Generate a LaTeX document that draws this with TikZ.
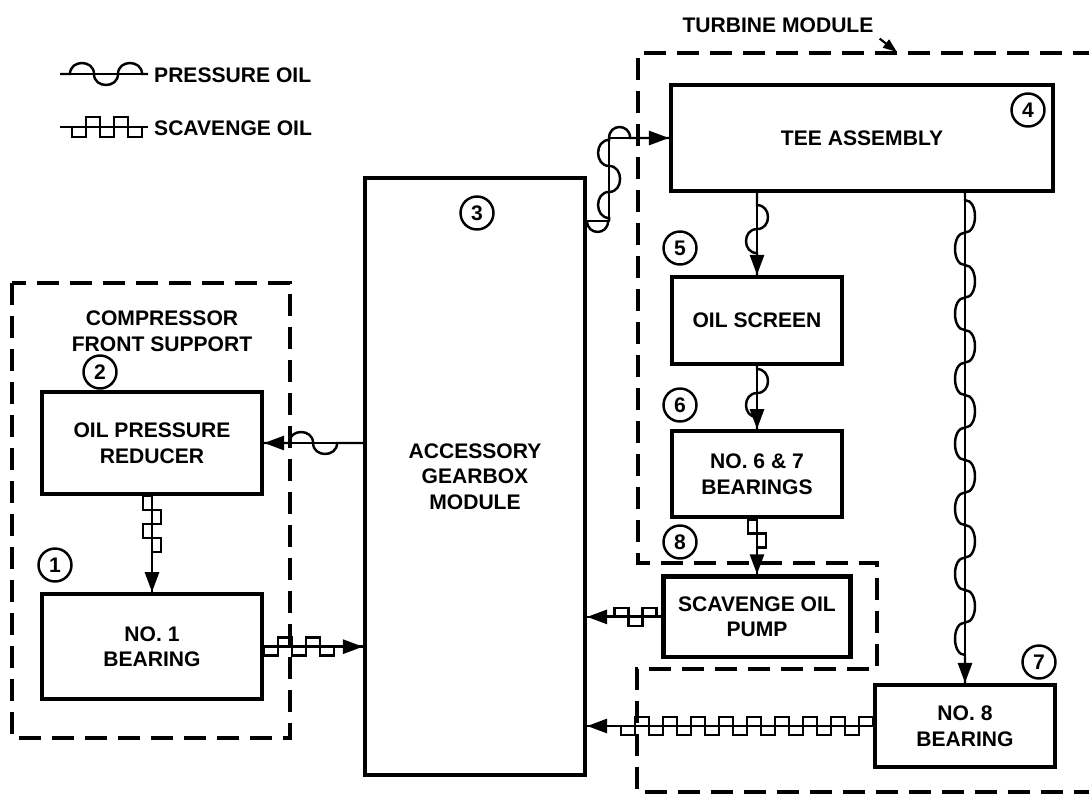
\documentclass[tikz,border=0pt]{standalone}
\usepackage{fontspec}
\setsansfont{Liberation Sans}
\usetikzlibrary{arrows.meta,positioning,decorations}

% alternating half circles for the pressure oil lines
\pgfdeclaredecoration{pressurewave}{up}{
  \state{up}[width=0.5\pgfdecorationsegmentlength, next state=down]{
    \pgfpathcurveto{\pgfpoint{0pt}{1.333\pgfdecorationsegmentamplitude}}
      {\pgfpoint{0.5\pgfdecorationsegmentlength}{1.333\pgfdecorationsegmentamplitude}}
      {\pgfpoint{0.5\pgfdecorationsegmentlength}{0pt}}
  }
  \state{down}[width=0.5\pgfdecorationsegmentlength, next state=up]{
    \pgfpathcurveto{\pgfpoint{0pt}{-1.333\pgfdecorationsegmentamplitude}}
      {\pgfpoint{0.5\pgfdecorationsegmentlength}{-1.333\pgfdecorationsegmentamplitude}}
      {\pgfpoint{0.5\pgfdecorationsegmentlength}{0pt}}
  }
  \state{final}{\pgfpathlineto{\pgfpointdecoratedpathlast}}
}
% square wave for the scavenge oil lines
\pgfdeclaredecoration{scavengewave}{low}{
  \state{low}[width=0.5\pgfdecorationsegmentlength, next state=high]{
    \pgfpathlineto{\pgfpoint{0pt}{-\pgfdecorationsegmentamplitude}}
    \pgfpathlineto{\pgfpoint{0.5\pgfdecorationsegmentlength}{-\pgfdecorationsegmentamplitude}}
  }
  \state{high}[width=0.5\pgfdecorationsegmentlength, next state=low]{
    \pgfpathlineto{\pgfpoint{0pt}{\pgfdecorationsegmentamplitude}}
    \pgfpathlineto{\pgfpoint{0.5\pgfdecorationsegmentlength}{\pgfdecorationsegmentamplitude}}
  }
  \state{final}{
    \pgfpathlineto{\pgfpoint{0pt}{0pt}}
    \pgfpathlineto{\pgfpointdecoratedpathlast}
  }
}

\begin{document}
\begin{tikzpicture}[x=0.02cm, y=-0.02cm, node distance=1cm,
        every node/.style={font={\sffamily\bfseries\fontsize{12}{14.5}\selectfont}},
        box/.style={rectangle,draw,line width=2.4pt,align=center},
        num/.style={circle,draw,line width=1.4pt,minimum size=0.66cm,inner sep=0pt},
        arrow/.style={-{Triangle[length=0.4cm,width=0.28cm]},line width=1.6pt},
        boundary/.style={dash pattern=on 0.44cm off 0.22cm,line width=1.8pt},
        pres/.style 2 args={decorate,line width=1.4pt,decoration={pressurewave,
          segment length=0.96cm,amplitude=0.22cm,pre length=#1,post length=#2}},
        scav/.style 2 args={decorate,line width=1.4pt,decoration={scavengewave,
          segment length=0.56cm,amplitude=0.18cm,pre length=#1,post length=#2}},
        flipwave/.style={decoration={amplitude=-0.22cm}}]
        \useasboundingbox (0,0) rectangle (1089,795);

        % legend
        \node[anchor=west] (preslbl) at (148,75) {PRESSURE OIL};
        \node[anchor=west] (scavlbl) at (148,128) {SCAVENGE OIL};
        \coordinate (presa) at (60,74);
        \coordinate (scava) at (60,127);
        \draw[line width=1.6pt] (presa) -- (presa -| preslbl.west);
        \draw[pres={0.2cm}{0.1cm}] (presa) -- (presa -| preslbl.west);
        \draw[line width=1.6pt] (scava) -- (scava -| scavlbl.west);
        \draw[scav={0.24cm}{0.1cm},decoration={amplitude=0.2cm}] (scava) -- (scava -| scavlbl.west);

        % compressor front support
        \draw[boundary] (12,283) rectangle (290,738);
        \node[align=center] (complbl) at (162,331) {COMPRESSOR\\FRONT SUPPORT};
        \node[box,minimum width=4.4cm,minimum height=2.04cm] (reducer) at (152,443) {OIL PRESSURE\\REDUCER};
        \node[box,minimum width=4.4cm,minimum height=2.1cm,below=1.92cm of reducer] (no1) {NO. 1\\BEARING};
        \node[num] (n2) at (100,372) {2};
        \node[num] (n1) at (55,565) {1};

        % accessory gearbox
        \node[box,minimum width=4.4cm,minimum height=11.94cm] (gear) at (475,476.5) {ACCESSORY\\GEARBOX\\MODULE};
        \node[num] (n3) at (477,213) {3};

        % turbine module
        \draw[boundary] (1095,53) -| (638,563) -| (877,669) -| (637,792) -- (1095,792);
        \node (turblbl) at (778,25) {TURBINE MODULE};
        \coordinate (turbtip) at (897,52);
        \draw[-{Triangle[length=0.28cm,width=0.2cm]},line width=1.2pt] (turblbl.south east) -- (turbtip);
        \node[box,minimum width=7.64cm,minimum height=2.12cm] (tee) at (862,138) {TEE ASSEMBLY};
        \node[box,minimum width=3.4cm,minimum height=1.74cm] (screen) at (757,320.5) {OIL SCREEN};
        \node[box,minimum width=3.4cm,minimum height=1.72cm,below=1.26cm of screen] (no67) {NO. 6 \& 7\\BEARINGS};
        \node[box,minimum width=3.74cm,minimum height=1.62cm,below=1.1cm of no67] (pump) {SCAVENGE OIL\\PUMP};
        \node[box,minimum width=3.6cm,minimum height=1.64cm] (no8) at (965,726) {NO. 8\\BEARING};
        \node[num] (n4) at (1028,110) {4};
        \node[num] (n5) at (680,248) {5};
        \node[num] (n6) at (680,405) {6};
        \node[num] (n8) at (680,542) {8};
        \node[num] (n7) at (1039,662) {7};

        % pressure oil
        \draw[arrow] (gear.west |- reducer.east) -- (reducer.east);
        \draw[pres={0.5cm}{0.04cm}] (reducer.east) -- (gear.west |- reducer.east);
        \coordinate (gearout) at ([yshift=-0.9cm]gear.north east);
        \coordinate (riser) at ([xshift=0.44cm]gearout);
        \coordinate (risertop) at (riser |- tee.west);
        \draw[arrow] (gearout) -- (riser) -- (risertop) -- (tee.west);
        \draw[pres={0cm}{0cm},flipwave,decoration={segment length=0.84cm}] (gearout) -- (riser);
        \draw[pres={0.06cm}{0cm},decoration={segment length=1.04cm}] (riser) -- (risertop);
        \draw[pres={0cm}{0.6cm},decoration={segment length=0.84cm}] (risertop) -- (tee.west);
        \draw[arrow] (tee.south -| screen.north) -- (screen.north);
        \draw[pres={0.24cm}{0.2cm}] (tee.south -| screen.north) -- (screen.north);
        \draw[arrow] (screen.south) -- (no67.north);
        \draw[pres={0.06cm}{0.2cm}] (screen.south) -- (no67.north);
        \draw[arrow] (tee.south -| no8.north) -- (no8.north);
        \draw[pres={0.14cm}{0.4cm},decoration={segment length=1.3cm,amplitude=0.2cm}] (tee.south -| no8.north) -- (no8.north);

        % scavenge oil
        \draw[arrow] (reducer.south) -- (no1.north);
        \draw[scav={0cm}{0.56cm}] (reducer.south) -- (no1.north);
        \draw[arrow] (no1.east) -- (no1.east -| gear.west);
        \draw[scav={0cm}{0.36cm}] (no1.east) -- (no1.east -| gear.west);
        \draw[arrow] (no67.south) -- (pump.north);
        \draw[scav={0cm}{0.4cm}] (no67.south) -- (pump.north);
        \draw[arrow] (pump.west) -- (pump.west -| gear.east);
        \draw[scav={0.1cm}{0.5cm}] (pump.west) -- (pump.west -| gear.east);
        \draw[arrow] (no8.west) -- (no8.west -| gear.east);
        \draw[scav={0cm}{0.6cm}] (no8.west) -- (no8.west -| gear.east);
      \end{tikzpicture}
\end{document}
